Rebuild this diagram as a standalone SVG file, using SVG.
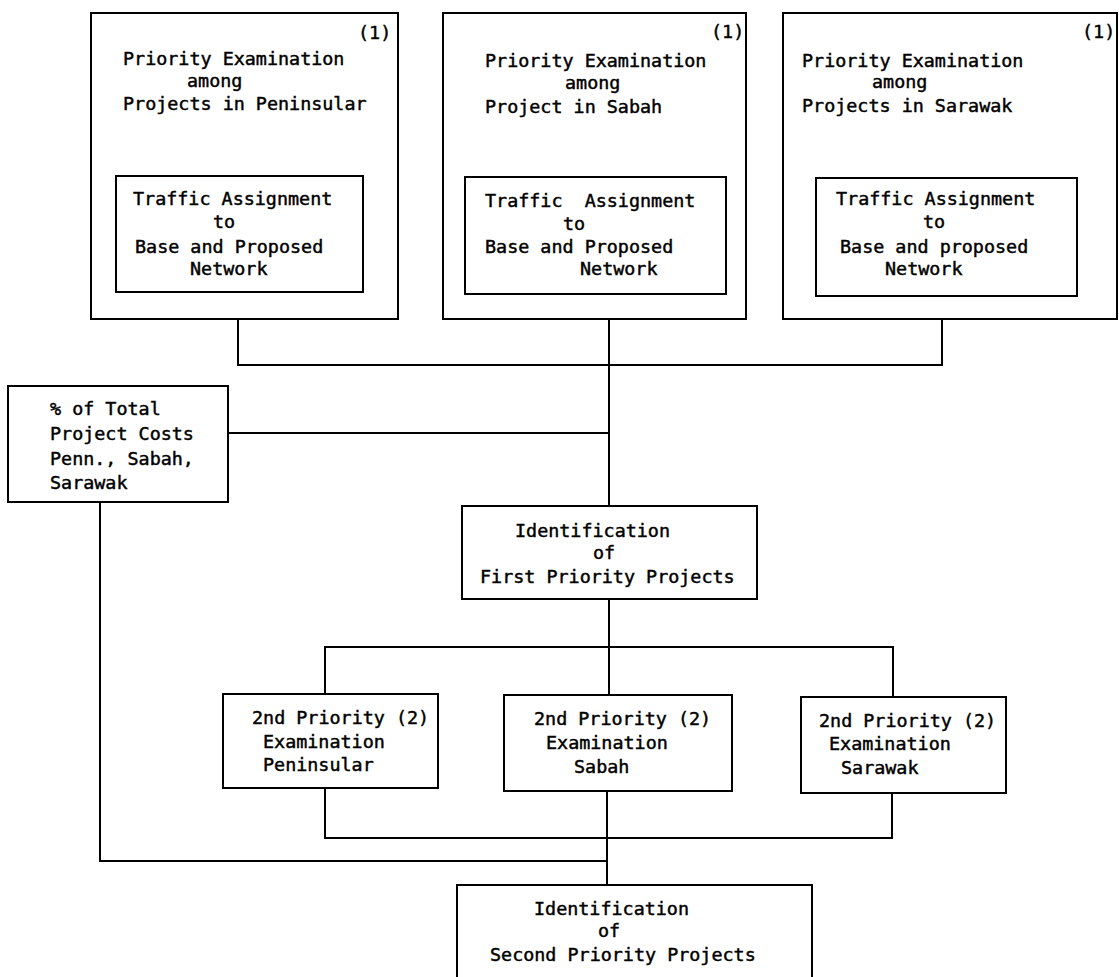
<svg xmlns="http://www.w3.org/2000/svg" width="1119" height="977" viewBox="0 0 1119 977">
<style>
.box{fill:none;stroke:#000;stroke-width:2}
.ln{fill:none;stroke:#000;stroke-width:2}
text{font-family:"DejaVu Sans Mono","Liberation Mono",monospace;font-size:18.4px;fill:#000;stroke:#000;stroke-width:0.45}
</style>
<rect width="1119" height="977" fill="#fff"/>
<g id="connectors">
<polyline class="ln" points="238,319 238,365 942,365 942,319"/>
<line class="ln" x1="609" y1="319" x2="609" y2="506"/>
<line class="ln" x1="228" y1="433" x2="609" y2="433"/>
<line class="ln" x1="609" y1="599" x2="609" y2="695"/>
<polyline class="ln" points="325,694 325,647 893,647 893,697"/>
<polyline class="ln" points="325,788 325,838 892,838 892,793"/>
<line class="ln" x1="607" y1="791" x2="607" y2="885"/>
<polyline class="ln" points="100,502 100,861 607,861"/>
</g>
<g id="peninsular">
<rect class="box" x="91" y="13" width="307" height="306"/>
<text x="358" y="39">(1)</text>
<text x="123" y="65">Priority Examination</text>
<text x="187" y="87">among</text>
<text x="123" y="110">Projects in Peninsular</text>
</g>
<g id="peninsular-traffic">
<rect class="box" x="116" y="176" width="247" height="116"/>
<text x="133" y="205">Traffic Assignment</text>
<text x="213" y="228">to</text>
<text x="135" y="253">Base and Proposed</text>
<text x="190" y="275">Network</text>
</g>
<g id="sabah">
<rect class="box" x="443" y="13" width="303" height="306"/>
<text x="711" y="38">(1)</text>
<text x="485" y="67">Priority Examination</text>
<text x="565" y="89">among</text>
<text x="485" y="113">Project in Sabah</text>
</g>
<g id="sabah-traffic">
<rect class="box" x="465" y="177" width="261" height="117"/>
<text x="485" y="207" xml:space="preserve">Traffic  Assignment</text>
<text x="563" y="230">to</text>
<text x="485" y="253">Base and Proposed</text>
<text x="580" y="275">Network</text>
</g>
<g id="sarawak">
<rect class="box" x="783" y="13" width="334" height="306"/>
<text x="1082" y="38">(1)</text>
<text x="802" y="67">Priority Examination</text>
<text x="872" y="88">among</text>
<text x="802" y="112">Projects in Sarawak</text>
</g>
<g id="sarawak-traffic">
<rect class="box" x="816" y="178" width="261" height="118"/>
<text x="836" y="205">Traffic Assignment</text>
<text x="923" y="228">to</text>
<text x="840" y="253">Base and proposed</text>
<text x="885" y="275">Network</text>
</g>
<g id="costs">
<rect class="box" x="8" y="386" width="220" height="116"/>
<text x="50" y="415">% of Total</text>
<text x="50" y="440">Project Costs</text>
<text x="50" y="465">Penn., Sabah,</text>
<text x="50" y="489">Sarawak</text>
</g>
<g id="first-priority">
<rect class="box" x="462" y="506" width="295" height="93"/>
<text x="515" y="537">Identification</text>
<text x="593" y="559">of</text>
<text x="480" y="583">First Priority Projects</text>
</g>
<g id="second-peninsular">
<rect class="box" x="223" y="694" width="215" height="94"/>
<text x="252" y="724">2nd Priority (2)</text>
<text x="263" y="748">Examination</text>
<text x="263" y="771">Peninsular</text>
</g>
<g id="second-sabah">
<rect class="box" x="504" y="695" width="228" height="96"/>
<text x="534" y="725">2nd Priority (2)</text>
<text x="546" y="749">Examination</text>
<text x="574" y="773">Sabah</text>
</g>
<g id="second-sarawak">
<rect class="box" x="801" y="697" width="205" height="96"/>
<text x="819" y="727">2nd Priority (2)</text>
<text x="829" y="750">Examination</text>
<text x="841" y="774">Sarawak</text>
</g>
<g id="second-priority">
<rect class="box" x="457" y="885" width="355" height="100"/>
<text x="534" y="915">Identification</text>
<text x="598" y="937">of</text>
<text x="490" y="961">Second Priority Projects</text>
</g>
</svg>
